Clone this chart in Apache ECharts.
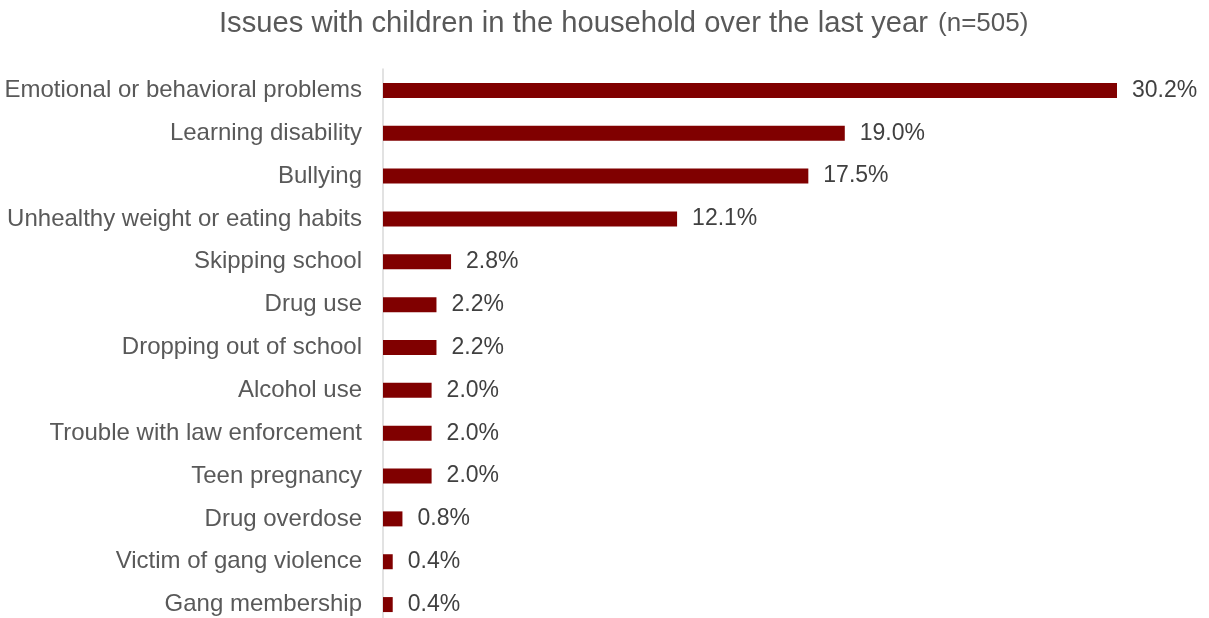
<!DOCTYPE html>
<html>
<head>
<meta charset="utf-8">
<script src="https://cdn.jsdelivr.net/npm/echarts@6/dist/echarts.min.js"></script>
<style>
html,body{margin:0;padding:0;background:#fff;overflow:hidden;width:1209px;height:618px;}
#chart{width:1209px;height:626px;}
</style>
</head>
<body>
<div id="chart"></div>
<script>
const categories = [
  "Emotional or behavioral problems",
  "Learning disability",
  "Bullying",
  "Unhealthy weight or eating habits",
  "Skipping school",
  "Drug use",
  "Dropping out of school",
  "Alcohol use",
  "Trouble with law enforcement",
  "Teen pregnancy",
  "Drug overdose",
  "Victim of gang violence",
  "Gang membership"
];
const values = [30.2, 19.0, 17.5, 12.1, 2.8, 2.2, 2.2, 2.0, 2.0, 2.0, 0.8, 0.4, 0.4];
const titleMain = "Issues with children in the household over the last year";
const titleSub = "(n=505)";

const FONT = 'Liberation Sans, Arial, sans-serif';
const chart = echarts.init(document.getElementById('chart'), null, {renderer: 'canvas'});
chart.setOption({
  backgroundColor: '#ffffff',
  animation: false,
  title: {
    text: '{a|' + titleMain + '}{s| }{b|' + titleSub + '}',
    left: 214,
    top: 4,
    textStyle: {
      fontWeight: 'normal',
      rich: {
        a: {fontFamily: FONT, fontSize: 29.2, fontWeight: 'normal', color: '#595959'},
        s: {fontFamily: FONT, fontSize: 29.2, fontWeight: 'normal', color: '#595959', width: 10},
        b: {fontFamily: FONT, fontSize: 26, fontWeight: 'normal', color: '#595959'}
      }
    }
  },
  grid: {left: 383, right: 92, top: 69, bottom: 0, containLabel: false},
  xAxis: {
    type: 'value', min: 0, max: 30.2, show: false
  },
  yAxis: {
    type: 'category',
    data: categories,
    inverse: true,
    axisLine: {show: true, lineStyle: {color: '#d9d9d9', width: 1.5}},
    axisTick: {show: false},
    axisLabel: {
      fontFamily: FONT,
      fontSize: 24,
      color: '#595959',
      margin: 21
    }
  },
  series: [{
    type: 'bar',
    data: values,
    barWidth: 15,
    itemStyle: {color: '#800000'},
    label: {
      show: true,
      position: 'right',
      distance: 15,
      formatter: p => p.value.toFixed(1) + '%',
      fontFamily: FONT,
      fontSize: 23,
      color: '#404040'
    }
  }]
});
</script>
</body>
</html>
